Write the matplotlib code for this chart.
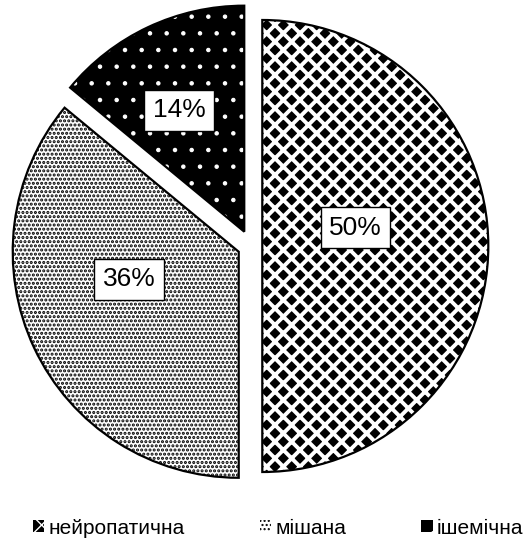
import matplotlib
matplotlib.use("Agg")
import numpy as np
import matplotlib.pyplot as plt

plt.rcParams['font.family'] = ['Liberation Sans', 'DejaVu Sans']

# data
labels = ["нейропатична", "мішана", "ішемічна"]
shares = [50, 36, 14]

# styles
faces = ["black", "white", "black"]
hatch_colors = ["white", "black", "white"]
hatches = ["xx", "....", "."]
hatch_widths = [2.8, 1.5, 0.8]
explode = [0.05, 0.06, 0.07]
# label placement: (distance from wedge centre, angle nudge in degrees)
label_pos = [(0.42, 11), (0.50, -11), (0.61, 3)]

fig = plt.figure(figsize=(5.30, 5.39), dpi=100)
ax = fig.add_axes([0, 0, 1, 1])

wedges, _, autotexts = ax.pie(
    shares, explode=explode, startangle=90, counterclock=False,
    colors=faces, autopct='%1.0f%%', pctdistance=0.5,
    wedgeprops=dict(linewidth=0),
    textprops=dict(fontsize=19, color='black'))

for w, h, hc, hw in zip(wedges, hatches, hatch_colors, hatch_widths):
    w.set_edgecolor(hc)
    w.set_hatch(h)
    if hasattr(w, 'set_hatch_linewidth'):
        w.set_hatch_linewidth(hw)

# black outlines on top
ax.pie(shares, explode=explode, startangle=90, counterclock=False,
       wedgeprops=dict(fill=False, edgecolor='black', linewidth=1.6))

for w, t, (r, da) in zip(wedges, autotexts, label_pos):
    ang = np.deg2rad((w.theta1 + w.theta2) / 2 + da)
    cx, cy = w.center
    t.set_position((cx + r * np.cos(ang), cy + r * np.sin(ang)))
    t.set_bbox(dict(boxstyle='square,pad=0.32', facecolor='white',
                    edgecolor='black', linewidth=1.0))

ax.set_xlim(-251 / 226, (530 - 251) / 226)
ax.set_ylim((246 - 539) / 226, 246 / 226)
ax.set_aspect('auto')
ax.axis('off')

fig.legend(wedges, labels, loc='center left', ncol=3,
           bbox_to_anchor=(33 / 530, 11 / 539), frameon=False,
           fontsize=15, handlelength=0.55, handleheight=0.55,
           handletextpad=0.2, columnspacing=3.6,
           borderpad=0, borderaxespad=0)

fig.savefig("out.png", dpi=100)
